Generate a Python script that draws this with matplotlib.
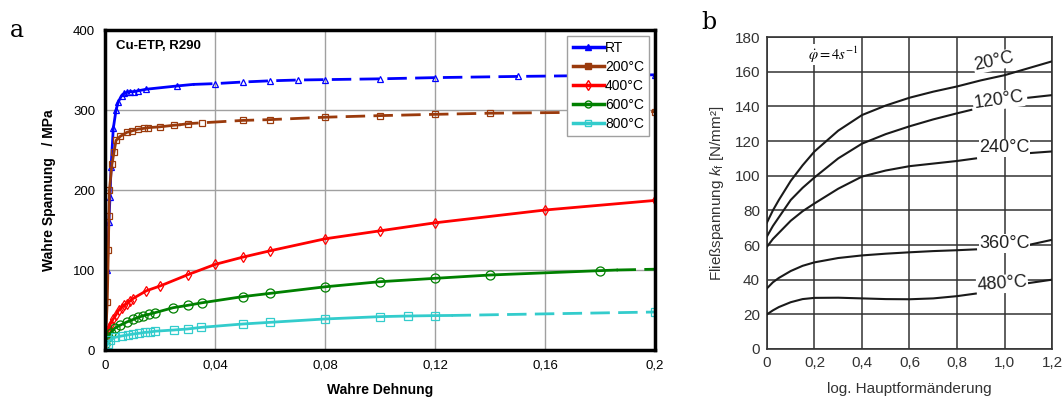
import matplotlib
matplotlib.use('Agg')
import matplotlib.pyplot as plt
from matplotlib.lines import Line2D

plt.rcParams['font.family'] = ['Liberation Sans', 'DejaVu Sans']
plt.rcParams['mathtext.fontset'] = 'custom'
plt.rcParams['mathtext.rm'] = 'Liberation Sans'
plt.rcParams['mathtext.it'] = 'Liberation Sans:italic'

# ---- panel a: Cu-ETP, R290 (true stress vs true strain)
rt_eps = [0, 0.0008, 0.0014, 0.0018, 0.0022, 0.003, 0.004, 0.0048, 0.006, 0.007, 0.008,
          0.009, 0.0105, 0.012, 0.015, 0.026, 0.032]
rt_sig = [0, 100, 160, 191, 229, 277, 300, 310, 318, 321, 322, 323, 323, 324, 326, 330, 332]
rt_eps_d = [0.032, 0.04, 0.05, 0.06, 0.07, 0.08, 0.1, 0.12, 0.15, 0.2]
rt_sig_d = [332, 333, 335, 336.5, 337.5, 338, 339, 340.5, 342, 344]

t200_eps = [0, 0.0008, 0.0012, 0.0014, 0.0016, 0.0025, 0.0033, 0.004, 0.0055, 0.0079,
            0.0099, 0.0119, 0.014, 0.0158, 0.02, 0.0251, 0.027]
t200_sig = [0, 60, 125, 167, 200, 232, 248, 262, 267, 272, 274, 276, 277, 278, 279, 281, 281.5]
t200_eps_d = [0.027, 0.0303, 0.0352, 0.05, 0.06, 0.08, 0.1, 0.12, 0.14, 0.2]
t200_sig_d = [281.5, 283, 284, 287, 288, 291, 293, 294.6, 296, 298]

t400_eps = [0, 0.0005, 0.001, 0.0015, 0.002, 0.003, 0.004, 0.005, 0.006, 0.007, 0.008,
            0.009, 0.01, 0.015, 0.02, 0.03, 0.04, 0.05, 0.06, 0.08, 0.1, 0.12, 0.16, 0.2]
t400_sig = [0, 15, 22, 28, 33, 39, 44, 50, 53, 56, 58, 61, 64, 74, 80, 94, 107, 116, 124,
            139, 149, 159, 175, 187]

t600_eps = [0, 0.001, 0.002, 0.0036, 0.0055, 0.0079, 0.0103, 0.0121, 0.0139, 0.016, 0.0182,
            0.0248, 0.03, 0.0352, 0.05, 0.06, 0.08, 0.1, 0.12, 0.14, 0.18, 0.186]
t600_sig = [8, 16, 21, 27.5, 31, 35, 38.3, 40.8, 42.9, 44.6, 46.7, 52.9, 55.8, 59, 66.7,
            70.8, 79, 85.4, 89.6, 93.75, 99.2, 100]
t600_eps_d = [0.186, 0.2]
t600_sig_d = [100, 101]

t800_eps = [0, 0.001, 0.0018, 0.0036, 0.006, 0.0085, 0.0103, 0.0125, 0.0145, 0.0163, 0.0182,
            0.025, 0.03, 0.035, 0.05, 0.06, 0.08, 0.1, 0.11, 0.12, 0.126]
t800_sig = [2, 8, 12.5, 15.8, 17.5, 19, 20, 21, 22, 22.5, 23.5, 25, 26.3, 28.3, 32.5, 34.6,
            38.8, 41.7, 42.5, 43, 43.2]
t800_eps_d = [0.126, 0.2]
t800_sig_d = [43.2, 47.5]

labels_a = ['RT', '200°C', '400°C', '600°C', '800°C']
colors_a = ['#0000ff', '#9a3a0c', '#ff0000', '#008000', '#33cccc']
markers_a = ['^', 's', 'd', 'o', 's']

# ---- panel b: flow stress vs log. strain
phi_20 = [0, 0.025, 0.05, 0.1, 0.15, 0.2, 0.3, 0.4, 0.5, 0.6, 0.7, 0.8, 0.9, 1.0, 1.1, 1.2]
kf_20 = [73, 80, 86, 97, 106, 114, 126, 135, 140.5, 145, 148.5, 151.5, 155, 158, 162, 166]
phi_120 = [0, 0.025, 0.05, 0.1, 0.15, 0.2, 0.3, 0.4, 0.5, 0.6, 0.7, 0.8, 0.86]
kf_120 = [65, 71, 76, 86, 93, 99, 110, 118.5, 124, 128.5, 132.5, 136, 138]
phi_120_end = [1.1, 1.2]
kf_120_end = [145, 146.5]
phi_240 = [0, 0.025, 0.05, 0.1, 0.15, 0.2, 0.3, 0.4, 0.5, 0.6, 0.7, 0.8, 0.88]
kf_240 = [59, 63.5, 67, 74, 79.5, 84, 92.5, 99.5, 103, 105.5, 107, 108.5, 110]
phi_240_end = [1.1, 1.2]
kf_240_end = [113, 114]
phi_360 = [0, 0.025, 0.05, 0.1, 0.15, 0.2, 0.3, 0.4, 0.5, 0.6, 0.7, 0.8, 0.88]
kf_360 = [35, 38.5, 41, 45, 48, 50, 52.5, 54, 55, 55.8, 56.5, 57, 57.5]
phi_360_end = [1.1, 1.2]
kf_360_end = [60, 63]
phi_480 = [0, 0.025, 0.05, 0.1, 0.15, 0.2, 0.3, 0.4, 0.5, 0.6, 0.7, 0.8, 0.88]
kf_480 = [20, 22.3, 24.2, 27, 28.8, 29.5, 29.6, 29.2, 28.8, 28.7, 29.2, 30.5, 32]
phi_480_end = [1.1, 1.2]
kf_480_end = [38, 40]

fig = plt.figure(figsize=(10.62, 4.03), dpi=100)

# ================= panel a
ax = fig.add_axes([0.0989, 0.1315, 0.5179, 0.794])
dash = (7, 3)
solid = [(rt_eps, rt_sig), (t200_eps, t200_sig), (t400_eps, t400_sig),
         (t600_eps, t600_sig), (t800_eps, t800_sig)]
dashed = [(rt_eps_d, rt_sig_d), (t200_eps_d, t200_sig_d), None,
          (t600_eps_d, t600_sig_d), (t800_eps_d, t800_sig_d)]
msizes = [5, 5, 5, 6.5, 5.5]
for i in range(5):
    xs, ys = solid[i]
    if i < 2:
        mk = list(range(1, len(xs) - 1))
    elif i == 2:
        mk = None
    else:
        mk = list(range(0, len(xs) - 1))
    ax.plot(xs, ys, color=colors_a[i], lw=2, marker=markers_a[i], ms=msizes[i],
            mfc='none', mew=0.9, markevery=mk, zorder=3)
    if dashed[i] is not None:
        xd, yd = dashed[i]
        mk_d = [] if i == 3 else list(range(1, len(xd)))
        ax.plot(xd, yd, color=colors_a[i], lw=2, dashes=dash, marker=markers_a[i],
                ms=msizes[i], mfc='none', mew=0.9, markevery=mk_d, zorder=3)

ax.set_xlim(0, 0.2)
ax.set_ylim(0, 400)
ax.set_xticks([0, 0.04, 0.08, 0.12, 0.16, 0.2])
ax.set_xticklabels(['0', '0,04', '0,08', '0,12', '0,16', '0,2'])
ax.set_yticks([0, 100, 200, 300, 400])
ax.tick_params(length=0, labelsize=9.5, pad=7)
ax.grid(True, color='#a0a0a0', lw=1)
ax.set_axisbelow(True)
for s in ax.spines.values():
    s.set_linewidth(2.5)
    s.set_zorder(4)
ax.set_xlabel('Wahre Dehnung', fontsize=10, fontweight='bold', labelpad=8)
ax.set_ylabel('Wahre Spannung   / MPa', fontsize=10, fontweight='bold', labelpad=12)
ax.text(0.004, 380, 'Cu-ETP, R290', fontsize=9.5, fontweight='bold', va='center')

handles = [Line2D([], [], color=colors_a[i], lw=2.5, marker=markers_a[i], ms=5,
                  mfc='none' if i > 1 else colors_a[i], mew=1) for i in range(5)]
leg = ax.legend(handles, labels_a, loc='upper right', fontsize=10, fancybox=False,
                edgecolor='#a0a0a0', framealpha=1, handlelength=2.2,
                handletextpad=0.1, borderaxespad=0.4, labelspacing=0.35,
                borderpad=0.4)
leg.get_frame().set_linewidth(1)
leg.set_zorder(5)

# ================= panel b
bx = fig.add_axes([0.7222, 0.134, 0.2684, 0.774])
for xs, ys in [(phi_20, kf_20), (phi_120, kf_120), (phi_120_end, kf_120_end),
               (phi_240, kf_240), (phi_240_end, kf_240_end),
               (phi_360, kf_360), (phi_360_end, kf_360_end),
               (phi_480, kf_480), (phi_480_end, kf_480_end)]:
    bx.plot(xs, ys, color='#1a1a1a', lw=1.5, zorder=3)

lab_box = dict(facecolor='white', edgecolor='none', pad=0.5)
for txt, x, y, rot in [('20°C', 0.955, 166, 12), ('120°C', 0.975, 143.5, 8),
                       ('240°C', 1.0, 116, 0), ('360°C', 1.0, 61, 0),
                       ('480°C', 0.99, 37.5, 4)]:
    bx.text(x, y, txt, fontsize=13, color='#222222', ha='center', va='center',
            rotation=rot, bbox=lab_box, zorder=4)
bx.text(0.28, 170, r'$\dot{\varphi} = 4s^{-1}$', fontsize=10.5, math_fontfamily='stix',
        ha='center', va='center', bbox=lab_box, zorder=4)

bx.set_xlim(0, 1.2)
bx.set_ylim(0, 180)
bx.set_xticks([0, 0.2, 0.4, 0.6, 0.8, 1.0, 1.2])
bx.set_xticklabels(['0', '0,2', '0,4', '0,6', '0,8', '1,0', '1,2'])
bx.set_yticks(range(0, 181, 20))
bx.tick_params(length=0, labelsize=11, pad=5, colors='#333333')
bx.grid(True, color='#333333', lw=1.1)
bx.set_axisbelow(True)
for s in bx.spines.values():
    s.set_linewidth(1.2)
    s.set_color('#333333')
bx.set_xlabel('log. Hauptformänderung', fontsize=11, color='#333333', labelpad=9)
bx.set_ylabel(r'Fließspannung $k_\mathrm{f}$ [N/mm²]', fontsize=11, color='#333333',
              labelpad=6)

fig.text(0.009, 0.925, 'a', fontsize=17, family='DejaVu Serif', va='center')
fig.text(0.660, 0.945, 'b', fontsize=17, family='DejaVu Serif', va='center')

fig.savefig('out.png', dpi=100)
